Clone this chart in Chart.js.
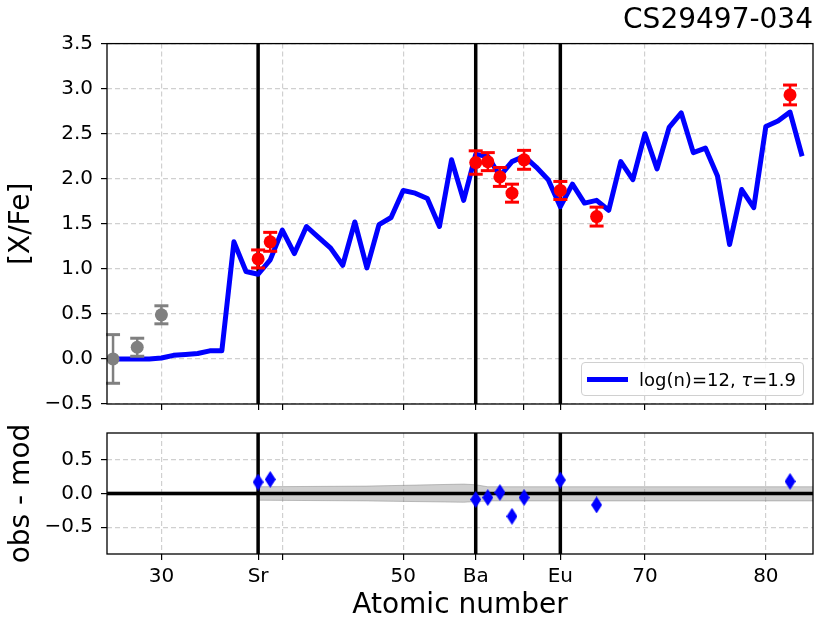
<!DOCTYPE html>
<html><head><meta charset="utf-8">
<script src="https://cdn.jsdelivr.net/npm/chart.js@4"></script>
<style>
html,body{margin:0;padding:0;background:#fff;}
#wrap{position:relative;width:830px;height:623px;font-family:"DejaVu Sans",sans-serif;overflow:hidden;}
#c1{position:absolute;left:0;top:0;}
#c2{position:absolute;left:0;top:420px;}
#legend{position:absolute;left:581px;top:362px;width:223px;height:34px;border:1px solid #d0d0d0;border-radius:4px;background:rgba(255,255,255,0.85);box-sizing:border-box;font-size:18px;display:flex;align-items:center;color:#000;}
#legend .ln{display:inline-block;width:41px;height:5px;background:#0000ff;margin-left:5px;margin-right:11px;}
</style></head>
<body><div id="wrap">
<canvas id="c1" width="830" height="420"></canvas>
<canvas id="c2" width="830" height="203"></canvas>
<div id="legend"></div>
</div>
<script>
// ---------------- data ----------------
const starName = 'CS29497-034';
const modelLabel = 'log(n)=12, τ=1.9';

const modelZ = [26,27,28,29,30,31,32,33,34,35,36,37,38,39,40,41,42,43,44,45,46,47,48,49,50,51,52,53,54,
                55,56,57,58,59,60,61,62,63,64,65,66,67,68,69,70,71,72,73,74,75,76,77,78,79,80,81,82,83];
const modelXFe = [0.00,0.00,0.00,0.00,0.01,0.04,0.05,0.06,0.09,0.09,1.30,0.97,0.94,1.10,1.43,1.17,1.47,1.35,1.23,1.04,1.52,1.01,1.49,1.57,1.87,1.84,1.78,1.47,2.21,
                  1.76,2.27,2.25,2.03,2.19,2.25,2.13,1.99,1.69,1.94,1.73,1.76,1.65,2.19,1.99,2.50,2.11,2.57,2.73,2.29,2.34,2.03,1.27,1.88,1.68,2.58,2.64,2.74,2.25];

// reference (grey) elements
const refZ = [26, 28, 30];
const refXFe = [0.00, 0.13, 0.49];
const refErr = [0.27, 0.10, 0.10];

// observed (red) elements
const obsZ = [38, 39, 56, 57, 58, 59, 60, 63, 66, 82];
const obsXFe = [1.11, 1.30, 2.18, 2.19, 2.02, 1.84, 2.21, 1.87, 1.58, 2.93];
const obsErr = [0.10, 0.105, 0.13, 0.10, 0.105, 0.10, 0.105, 0.10, 0.105, 0.11];
const obsResid = [0.17, 0.21, -0.09, -0.06, 0.015, -0.34, -0.06, 0.20, -0.17, 0.18];

// model uncertainty band in the residual panel
const bandZ = [25.5, 37.9, 38, 47, 55, 56, 57, 83.9];
const bandUpper = [0.02, 0.02, 0.10, 0.11, 0.14, 0.13, 0.10, 0.10];
const bandLower = [-0.02, -0.02, -0.10, -0.11, -0.13, -0.12, -0.11, -0.11];

// marked elements (vertical lines)
const markZ = [38, 56, 63];

// axes
const xMin = 25.5, xMax = 83.9;
const xTickValues = [30, 38, 40, 50, 56, 60, 63, 70, 80];
const xTickLabels = ['30', 'Sr', '', '50', 'Ba', '', 'Eu', '70', '80'];
const xGridValues = [30, 40, 50, 60, 70, 80];
const yTopMin = -0.5, yTopMax = 3.5;
const yTopTicks = [-0.5, 0.0, 0.5, 1.0, 1.5, 2.0, 2.5, 3.0, 3.5];
const yBotMin = -0.9, yBotMax = 0.9;
const yBotTicks = [-0.5, 0.0, 0.5];

// ---------------- helpers ----------------
const F = "'DejaVu Sans', sans-serif";
Chart.defaults.font.family = F;
Chart.defaults.color = '#000';
const GRID = '#d0d0d0';

const fmtY = v => (Math.abs(v) < 1e-9 ? '0.0' : v.toFixed(1)).replace('-', '\u2212');
const pts = (xs, ys) => xs.map((x, i) => ({x: x, y: ys[i]}));
function errSegments(zs, ys, es) {
  const d = [];
  zs.forEach((z, i) => { d.push({x: z, y: ys[i] - es[i]}, {x: z, y: ys[i] + es[i]}, {x: z, y: null}); });
  return d;
}
function vlines(zs, y0, y1) {
  const d = [];
  zs.forEach(z => { d.push({x: z, y: y0}, {x: z, y: y1}, {x: z, y: null}); });
  return d;
}

const frame = {
  id: 'frame',
  afterDatasetsDraw(chart) {
    const {ctx, chartArea: a} = chart;
    ctx.save();
    ctx.strokeStyle = '#000';
    ctx.lineWidth = 1.3;
    ctx.strokeRect(a.left, a.top, a.right - a.left, a.bottom - a.top);
    ctx.restore();
  }
};

function xAxis(showLabels, title, height) {
  return {
    type: 'linear', min: xMin, max: xMax,
    afterBuildTicks: s => { s.ticks = xTickValues.map(v => ({value: v})); },
    ticks: {display: showLabels, autoSkip: false, maxRotation: 0, minRotation: 0, padding: 5, font: {size: 20},
      callback: v => { const i = xTickValues.indexOf(v); return i >= 0 ? xTickLabels[i] : ''; }},
    grid: {color: c => (c.tick && xGridValues.includes(c.tick.value)) ? GRID : 'rgba(0,0,0,0)',
      lineWidth: 1.2, drawTicks: true, tickLength: 6, tickColor: '#000', tickWidth: 1.2, tickBorderDash: []},
    border: {display: false, dash: [5, 3]},
    title: title ? {display: true, text: title, font: {size: 28}, padding: {top: 0, bottom: 0}} : {display: false},
    afterFit: s => { s.height = height; }
  };
}
function yAxis(min, max, tickVals, title) {
  return {
    type: 'linear', min: min, max: max,
    afterBuildTicks: s => { s.ticks = tickVals.map(v => ({value: v})); },
    ticks: {font: {size: 20, lineHeight: 0.5}, padding: 8, callback: v => fmtY(v)},
    grid: {color: GRID, lineWidth: 1.2, drawTicks: true, tickLength: 6, tickColor: '#000', tickWidth: 1.2, tickBorderDash: []},
    border: {display: false, dash: [5, 3]},
    title: {display: true, text: title, font: {size: 28}, padding: {top: 5, bottom: 0}},
    afterFit: s => { s.width = 107; }
  };
}

// diamond marker
const dia = document.createElement('canvas');
dia.width = 11; dia.height = 17;
(function () {
  const c = dia.getContext('2d');
  c.fillStyle = '#0000ff';
  c.beginPath(); c.moveTo(5.5, 0); c.lineTo(11, 8.5); c.lineTo(5.5, 17); c.lineTo(0, 8.5); c.closePath(); c.fill();
})();

// ---------------- top chart ----------------
new Chart(document.getElementById('c1'), {
  type: 'scatter',
  data: {datasets: [
    {label: 'obs', data: pts(obsZ, obsXFe), pointRadius: 6.5, pointHoverRadius: 6.5, backgroundColor: '#ff0000', borderColor: '#ff0000', pointBorderWidth: 0, clip: false},
    {label: 'obsErr', data: errSegments(obsZ, obsXFe, obsErr), showLine: true, borderColor: '#ff0000', borderWidth: 2.5,
      pointStyle: 'line', pointRadius: 7, pointBorderWidth: 3, pointBorderColor: '#ff0000', spanGaps: false, clip: false},
    {label: 'ref', data: pts(refZ, refXFe), pointRadius: 6.5, backgroundColor: '#808080', borderColor: '#808080', pointBorderWidth: 0, clip: false},
    {label: 'refErr', data: errSegments(refZ, refXFe, refErr), showLine: true, borderColor: '#808080', borderWidth: 2.5,
      pointStyle: 'line', pointRadius: 7, pointBorderWidth: 3, pointBorderColor: '#808080', spanGaps: false, clip: false},
    {label: modelLabel, data: pts(modelZ, modelXFe), showLine: true, borderColor: '#0000ff', borderWidth: 5,
      pointRadius: 0, tension: 0, borderJoinStyle: 'round', borderCapStyle: 'butt'},
    {label: 'marks', data: vlines(markZ, yTopMin, yTopMax), showLine: true, borderColor: '#000', borderWidth: 3.5, pointRadius: 0, spanGaps: false}
  ]},
  options: {
    responsive: false, animation: false,
    layout: {padding: {left: 0, right: 17, top: 0, bottom: 0}},
    plugins: {
      legend: {display: false}, tooltip: {enabled: false},
      title: {display: true, text: starName, align: 'end', color: '#000', font: {size: 28, weight: 'normal'}, padding: {top: 4, bottom: 6}}
    },
    scales: {
      x: xAxis(false, null, 16),
      y: yAxis(yTopMin, yTopMax, yTopTicks, '[X/Fe]')
    }
  },
  plugins: [frame]
});

// ---------------- residual chart ----------------
new Chart(document.getElementById('c2'), {
  type: 'scatter',
  data: {datasets: [
    {label: 'resid', data: pts(obsZ, obsResid), pointStyle: dia, pointRadius: 8, clip: false},
    {label: 'zero', data: [{x: xMin, y: 0}, {x: xMax, y: 0}], showLine: true, borderColor: '#000', borderWidth: 3.5, pointRadius: 0},
    {label: 'marks', data: vlines(markZ, yBotMin, yBotMax), showLine: true, borderColor: '#000', borderWidth: 3.5, pointRadius: 0, spanGaps: false},
    {label: 'bandUp', data: pts(bandZ, bandUpper), showLine: true, borderColor: 'rgba(128,128,128,0.45)', borderWidth: 1,
      pointRadius: 0, fill: '+1', backgroundColor: 'rgba(128,128,128,0.38)', tension: 0},
    {label: 'bandLo', data: pts(bandZ, bandLower), showLine: true, borderColor: 'rgba(128,128,128,0.45)', borderWidth: 1, pointRadius: 0, tension: 0}
  ]},
  options: {
    responsive: false, animation: false,
    layout: {padding: {left: 0, right: 17, top: 10, bottom: 0}},
    plugins: {legend: {display: false}, tooltip: {enabled: false}, title: {display: false}},
    scales: {
      x: xAxis(true, 'Atomic number', 69),
      y: yAxis(yBotMin, yBotMax, yBotTicks, 'obs - mod')
    }
  },
  plugins: [frame]
});

// ---------------- legend (HTML) ----------------
document.getElementById('legend').innerHTML =
  '<span class="ln"></span><span>' + modelLabel.replace('τ', '<i>τ</i>') + '</span>';
</script>
</body></html>
